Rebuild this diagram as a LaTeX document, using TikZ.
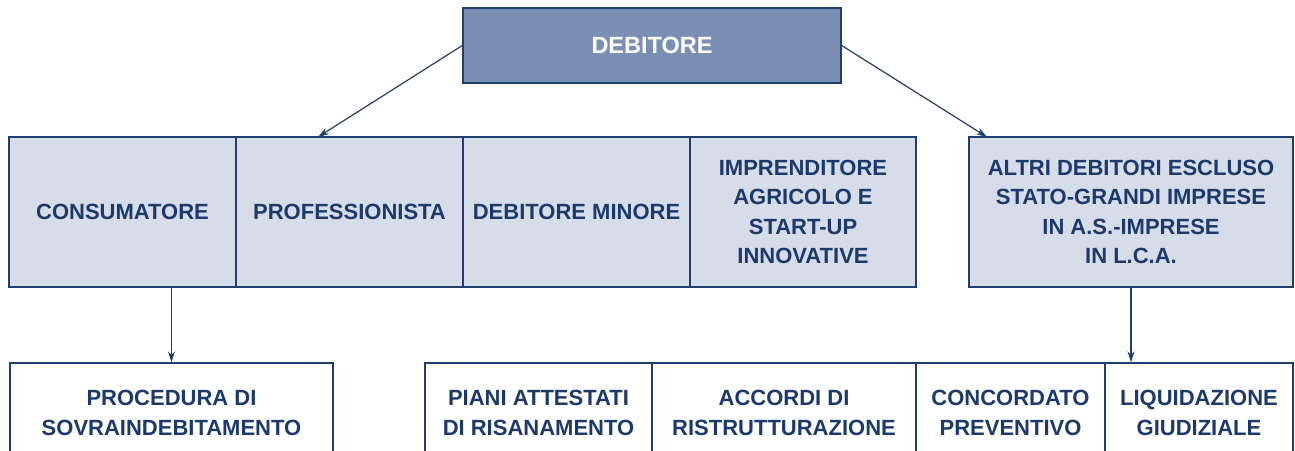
\documentclass[tikz,border=0pt]{standalone}
\usepackage{fontspec}
\setmainfont{Liberation Sans}
\usetikzlibrary{arrows.meta}
\definecolor{edge}{HTML}{1F3F6E}
\definecolor{txt}{HTML}{1B3A6B}
\definecolor{topfill}{HTML}{7B8EB4}
\definecolor{lightfill}{HTML}{D6DCE8}
\tikzset{
  box/.style={draw=edge, line width=1.4pt, rectangle, inner sep=0pt, align=center,
    font=\fontsize{22}{29.5}\selectfont\bfseries, text=txt},
  midbox/.style={box, fill=lightfill, minimum height=150pt},
  lowbox/.style={box, fill=white, minimum height=100pt},
  topbox/.style={box, fill=topfill, text=white, minimum width=378pt, minimum height=75pt,
    font=\fontsize{23.5}{29}\selectfont\bfseries},
  conn/.style={draw=edge, line width=1.2pt, -{Stealth[length=11pt,width=7pt]}}
}
\begin{document}
\begin{tikzpicture}[x=1pt,y=-1pt]
\useasboundingbox (0,0) rectangle (1295,450);
\clip (0,0) rectangle (1295,450);
\fill[white] (0,0) rectangle (1295,450);
\node[topbox] (deb) at (652,45.5) {DEBITORE};
\node[midbox, minimum width=227pt] (cons) at (122.5,212) {CONSUMATORE};
\node[midbox, minimum width=227pt] (prof) at (349.5,212) {PROFESSIONISTA};
\node[midbox, minimum width=227pt] (min) at (576.5,212) {DEBITORE MINORE};
\node[midbox, minimum width=226pt] (agr) at (803,212) {IMPRENDITORE\\AGRICOLO E\\START-UP\\INNOVATIVE};
\node[midbox, minimum width=324pt] (altri) at (1131,212) {ALTRI DEBITORI ESCLUSO\\STATO-GRANDI IMPRESE\\IN A.S.-IMPRESE\\IN L.C.A.};
\node[lowbox, minimum width=323pt] (proc) at (171.5,413) {PROCEDURA DI\\SOVRAINDEBITAMENTO};
\node[lowbox, minimum width=227pt] (piani) at (538.5,413) {PIANI ATTESTATI\\DI RISANAMENTO};
\node[lowbox, minimum width=264pt] (acc) at (784,413) {ACCORDI DI\\RISTRUTTURAZIONE};
\node[lowbox, minimum width=189pt] (conc) at (1010.5,413) {CONCORDATO\\PREVENTIVO};
\node[lowbox, minimum width=188pt] (liq) at (1199,413) {LIQUIDAZIONE\\GIUDIZIALE};
\coordinate (tl) at (318,137);
\coordinate (tr) at (987,137);
\draw[conn] (deb.west) -- (tl);
\draw[conn] (deb.east) -- (tr);
\draw[conn] (proc.north |- cons.south) -- (proc.north);
\draw[conn] (altri.south) -- (altri.south |- liq.north);
\end{tikzpicture}
\end{document}
